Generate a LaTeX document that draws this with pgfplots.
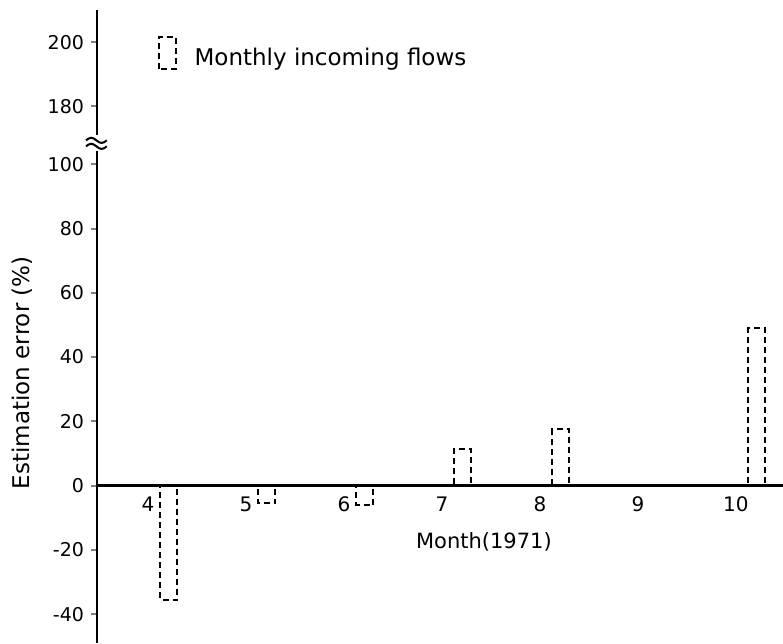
\documentclass[border=0pt]{standalone}
\usepackage{fontspec}
\setmainfont{DejaVu Sans}
\usepackage{pgfplots}
\pgfplotsset{compat=1.18}

\begin{document}
\begin{tikzpicture}
\begin{axis}[
    scale only axis,
    width=343pt,
    height=316.5pt,
    xmin=3.48, xmax=10.48,
    ymin=-49, ymax=148,
    axis x line=middle,
    axis y line=left,
    axis line style={-, line width=1.4pt},
    clip=false,
    ybar,
    bar width=8.5pt,
    bar shift=10.5pt,
    xtick={4,5,6,7,8,9,10},
    xticklabels={4,5,6,7,8,9,10},
    xtick style={draw=none},
    x tick label style={font=\fontsize{10}{12}\selectfont, yshift=1pt},
    % upper ticks sit above the axis break (shifted down by 62)
    ytick={-40,-20,0,20,40,60,80,100,118,138},
    yticklabels={-40,-20,0,20,40,60,80,100,180,200},
    y tick label style={font=\fontsize{9.5}{11}\selectfont},
    ytick style={line width=1pt},
    tick align=outside,
    major tick length=3pt,
    xlabel={Month(1971)},
    xlabel style={at={(axis description cs:0.564,0.160)}, anchor=center,
        font=\fontsize{10.5}{12}\selectfont},
    ylabel={Estimation error (\%)},
    ylabel style={at={(axis description cs:-0.109,0.427)}, anchor=center,
        font=\fontsize{11.5}{13}\selectfont},
    legend style={draw=none, fill=none, at={(axis description cs:0.079,0.966)},
        anchor=north west, font=\fontsize{11.5}{13}\selectfont},
    legend cell align=left,
]

\addplot[draw=black, fill=none, line width=1pt, dash pattern=on 3pt off 2pt,
    legend image code/.code={
        \draw[black, line width=1pt, dash pattern=on 3pt off 2pt]
            (0pt,-5.5pt) rectangle (8.5pt,10.5pt);
        \path[draw=none] (8.5pt,0pt) -- (16pt,0pt);}]
    coordinates {
    (4,-35.5)
    (5,-5.5)
    (6,-6)
    (7,11.5)
    (8,17.5)
    (10,49)
};
\addlegendentry{Monthly incoming flows}

\coordinate (brk) at (axis cs:3.48,106.5);
\end{axis}
% axis break mark
\fill[white] ([xshift=-1.5pt,yshift=-4pt]brk) rectangle ([xshift=1.5pt,yshift=4pt]brk);
\draw[line width=1pt] ([xshift=-5.5pt,yshift=1.5pt]brk)
    sin ++(2.6pt,1.3pt) cos ++(2.6pt,-1.3pt) sin ++(2.6pt,-1.3pt) cos ++(2.6pt,1.3pt);
\draw[line width=1pt] ([xshift=-5.5pt,yshift=-1.5pt]brk)
    sin ++(2.6pt,1.3pt) cos ++(2.6pt,-1.3pt) sin ++(2.6pt,-1.3pt) cos ++(2.6pt,1.3pt);
\pgfresetboundingbox
\path ([xshift=-48.5pt]current axis.south west) rectangle ([yshift=5pt]current axis.north east);
\end{tikzpicture}
\end{document}
